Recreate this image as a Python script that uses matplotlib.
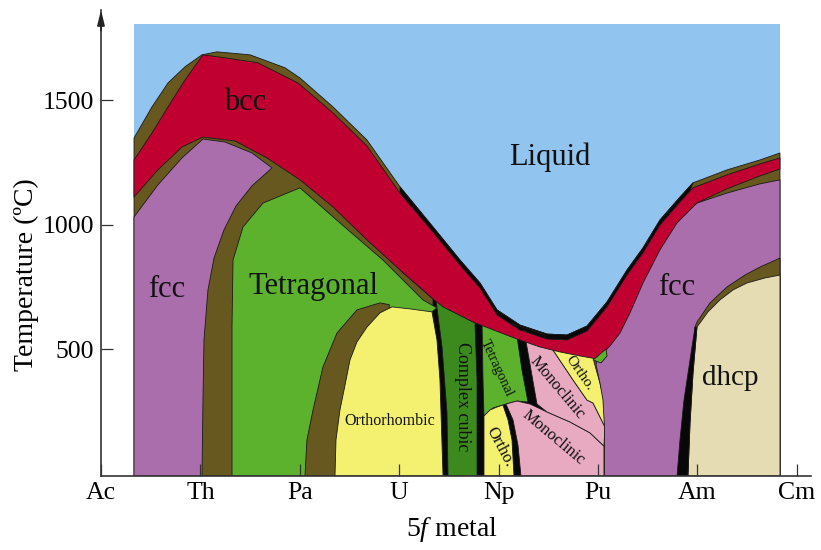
import matplotlib
matplotlib.use('Agg')
import matplotlib.pyplot as plt
from matplotlib.patches import Polygon, Rectangle

plt.rcParams['font.family'] = ['Liberation Serif', 'DejaVu Serif']
plt.rcParams['mathtext.fontset'] = 'custom'
plt.rcParams['mathtext.it'] = 'Liberation Serif:italic'
plt.rcParams['mathtext.rm'] = 'Liberation Serif'

# ---------------- data (x = element position, T = temperature in deg C) ----------------
elements = ['Ac', 'Th', 'Pa', 'U', 'Np', 'Pu', 'Am', 'Cm']
temp_ticks = [500, 1000, 1500]
X_MIN, X_MAX = 0.332, 6.831          # extent of the diagram
T_BOTTOM, T_TOP = -8, 1807

# liquidus
LIQ_X = [0.332, 0.513, 0.674, 0.845, 1.016, 1.167, 1.499, 1.851, 2.002, 2.334, 2.676, 3.008, 3.340,
         3.612, 3.813, 3.984, 4.215, 4.487, 4.688, 4.889, 5.091, 5.292, 5.453, 5.624, 5.825, 5.956,
         6.298, 6.630, 6.831]
LIQ_T = [1349, 1474, 1570, 1635, 1683, 1695, 1683, 1631, 1590, 1474, 1341, 1153, 992,
         859, 767, 659, 598, 562, 558, 594, 691, 819, 908, 1020, 1112, 1169,
         1221, 1261, 1289]
# bcc upper boundary
RT_X = [0.332, 0.513, 0.674, 0.845, 1.026, 1.247, 1.579, 1.982, 2.334, 2.676, 3.008, 3.340, 3.612,
        3.813, 3.984, 4.215, 4.487, 4.688, 4.889, 5.091, 5.292, 5.453, 5.624, 5.825, 5.956, 6.298,
        6.630, 6.831]
RT_T = [1261, 1369, 1474, 1582, 1683, 1671, 1651, 1570, 1450, 1317, 1128, 972, 839,
        747, 639, 578, 542, 538, 574, 671, 799, 888, 1000, 1092, 1149, 1201,
        1245, 1269]
# bcc lower boundary
RB_X = [0.332, 0.573, 0.815, 1.026, 1.348, 1.670, 2.002, 2.334, 2.676, 3.008, 3.340, 3.441, 3.742,
        4.185, 4.416, 4.618, 4.819, 4.990, 5.121, 5.221, 5.322, 5.453, 5.624, 5.795, 5.996, 6.298,
        6.630, 6.831]
RB_T = [1112, 1221, 1313, 1353, 1337, 1269, 1181, 1072, 940, 819, 703, 671, 610,
        542, 510, 490, 474, 462, 514, 566, 647, 767, 900, 1008, 1088, 1145,
        1197, 1225]

FCC_L_X = [0.332, 0.573, 0.815, 1.026, 1.247, 1.519, 1.720, 1.519, 1.358, 1.237, 1.137, 1.076, 1.036,
           1.026, 1.016, 0.332]
FCC_L_T = [1032, 1161, 1269, 1345, 1333, 1289, 1229, 1157, 1076, 980, 867, 739, 538, 297, -8, -8]

TET_PA_X = [1.318, 1.318, 1.328, 1.429, 1.630, 2.002, 2.404, 2.837, 3.239, 3.380, 3.330, 3.380, 3.410, 3.441]
TET_PA_T = [-8, 590, 859, 992, 1088, 1149, 1008, 859, 699, 667, 651, 538, 378, -8]

U_OL_X = [2.052, 2.072, 2.133, 2.233, 2.374, 2.575, 2.807, 2.900, 2.900]
U_OL_T = [-8, 137, 257, 430, 566, 659, 687, 680, -8]

U_OR_X = [2.354, 2.364, 2.404, 2.455, 2.505, 2.575, 2.676, 2.807, 2.928, 3.109, 3.330, 3.380, 3.410, 3.441]
U_OR_T = [-8, 137, 257, 357, 458, 530, 590, 647, 671, 663, 651, 538, 378, -8]

BLK_BASE_X = [3.340, 4.467, 4.467, 3.340]
BLK_BASE_T = [715, 558, -8, -8]

CC_X = [3.370, 3.431, 3.481, 3.491, 3.783, 3.783, 3.763, 3.773]
CC_T = [699, 510, 245, -8, -8, 378, 598, 635]

TET_NP_X = [3.833, 3.843, 3.853, 3.944, 4.044, 4.185, 4.296, 4.235, 4.185, 4.185]
TET_NP_T = [618, 378, 233, 265, 277, 293, 289, 418, 554, 578]

OR_NP_X = [3.853, 3.853, 3.913, 3.984, 4.044, 4.095, 4.135, 4.155]
OR_NP_T = [-8, 233, 257, 269, 277, 217, 137, -8]

MONO_LOW_X = [4.074, 4.185, 4.316, 4.487, 4.718, 4.920, 5.060, 5.060, 4.225, 4.195, 4.145]
MONO_LOW_T = [281, 293, 281, 249, 209, 165, 112, -8, -8, 116, 217]

MONO_UP_X = [4.245, 4.266, 4.326, 4.386, 4.487, 4.718, 4.920, 5.060, 5.070, 5.020, 4.950, 4.889,
             4.748, 4.547, 4.547]
MONO_UP_T = [578, 554, 418, 281, 249, 209, 165, 112, 189, 229, 285, 297, 378, 498, 518]

OR_PU_X = [4.547, 4.547, 4.748, 4.889, 4.950, 5.020, 5.070, 5.060, 5.020, 4.960, 4.960]
OR_PU_T = [518, 498, 378, 297, 285, 229, 189, 297, 365, 450, 490]

FCC_R_X = [5.065, 5.065, 5.050, 5.020, 4.980, 5.000, 5.121, 5.221, 5.322, 5.453, 5.624, 5.795, 5.996,
           6.298, 6.630, 6.831, 6.831]
FCC_R_T = [-8, 189, 297, 365, 438, 478, 538, 590, 671, 791, 924, 1028, 1088, 1128, 1165, 1181, -8]

DH_OL_X = [5.976, 5.996, 6.127, 6.298, 6.479, 6.630, 6.831, 6.831, 5.976]
DH_OL_T = [590, 610, 687, 751, 799, 831, 867, -8, -8]

DHCP_X = [5.996, 6.107, 6.227, 6.358, 6.499, 6.680, 6.831, 6.831, 5.905, 5.926, 5.956]
DHCP_T = [590, 651, 699, 739, 767, 787, 799, -8, -8, 205, 406]

BLK_AM_X = [5.976, 5.926, 5.865, 5.825, 5.795, 5.905, 5.926, 5.956, 5.996]
BLK_AM_T = [590, 458, 297, 137, -8, -8, 205, 406, 590]

BLOB_X = [4.950, 5.000, 5.080, 5.091, 5.030]
BLOB_T = [458, 474, 502, 474, 446]

# ---------------- colours ----------------
C_LIQ = '#91C4EF'
C_BCC = '#C00030'
C_OLIVE = '#66581E'
C_FCC = '#AA6EAC'
C_TET = '#5CB22C'
C_YEL = '#F4F070'
C_CC = '#3C8A1E'
C_PINK = '#E8AAC0'
C_DHCP = '#E6DCB4'
C_BLACK = '#080808'
EDGE = '#1a1a1a'

fig = plt.figure(figsize=(8.21, 5.5), dpi=100)
ax = fig.add_axes([101 / 821, 74 / 550, 710 / 821, 466 / 550])
ax.set_xlim(0, 7.143)
ax.set_ylim(-8, 1863)

zc = [1.0]


def poly(xs, ts, color, ec=EDGE, lw=0.6):
    zc[0] += 0.01
    ax.add_patch(Polygon(list(zip(xs, ts)), closed=True, facecolor=color, edgecolor=ec,
                         linewidth=lw, zorder=zc[0], joinstyle='round'))


# liquid background
ax.add_patch(Rectangle((X_MIN, T_BOTTOM), X_MAX - X_MIN, T_TOP - T_BOTTOM,
                       facecolor=C_LIQ, edgecolor='none', zorder=1.0))
# solid region under the liquidus (olive two-phase bands)
poly(LIQ_X + [X_MAX, X_MIN], LIQ_T + [T_BOTTOM, T_BOTTOM], C_OLIVE)
# black narrow two-phase strip under the liquidus (U .. Am)
top_pts = [(x, t) for x, t in zip(LIQ_X, LIQ_T) if 3.0 <= x <= 5.96]
bot_pts = [(x, t) for x, t in zip(RB_X, RB_T) if 3.0 <= x <= 5.96][::-1]
poly([p[0] for p in top_pts + bot_pts], [p[1] for p in top_pts + bot_pts], C_BLACK)
poly(BLK_BASE_X, BLK_BASE_T, C_BLACK)

poly(FCC_L_X, FCC_L_T, C_FCC)
poly(TET_PA_X, TET_PA_T, C_TET)
poly(U_OL_X, U_OL_T, C_OLIVE)
poly(U_OR_X, U_OR_T, C_YEL)
poly(CC_X, CC_T, C_CC)
poly(TET_NP_X, TET_NP_T, C_TET)
poly(OR_NP_X, OR_NP_T, C_YEL)
poly(MONO_LOW_X, MONO_LOW_T, C_PINK)
poly(MONO_UP_X, MONO_UP_T, C_PINK)
poly(OR_PU_X, OR_PU_T, C_YEL)
poly(FCC_R_X, FCC_R_T, C_FCC)
poly(DH_OL_X, DH_OL_T, C_OLIVE)
poly(DHCP_X, DHCP_T, C_DHCP)
poly(BLK_AM_X, BLK_AM_T, C_BLACK)
# bcc band
poly(RT_X + RB_X[::-1], RT_T + RB_T[::-1], C_BCC)
poly(BLOB_X, BLOB_T, C_TET)

# ---------------- labels ----------------
big = 22
def lab(x, t, s, size, rot=0):
    ax.text(x, t, s, fontsize=size, rotation=rot, ha='center', va='center',
            rotation_mode='anchor', zorder=5, color='#111111')

lab(1.449, 1490, 'bcc', big)
lab(4.517, 1273, 'Liquid', big)
lab(0.664, 739, 'fcc', big)
lab(2.133, 751, 'Tetragonal', big)
lab(5.795, 747, 'fcc', big)
lab(6.328, 386, 'dhcp', 21)
lab(2.907, 213, 'Orthorhombic', 11.5)
lab(3.632, 309, 'Complex cubic', 13, -90)
lab(3.984, 426, 'Tetragonal', 10.5, -65)
lab(4.588, 345, 'Monoclinic', 12, -50)
lab(4.547, 145, 'Monoclinic', 12, -40)
lab(4.819, 406, 'Ortho.', 11, -55)
lab(4.014, 108, 'Ortho.', 12, -62)

# ---------------- axes ----------------
for s in ['top', 'right']:
    ax.spines[s].set_visible(False)
for s in ['left', 'bottom']:
    ax.spines[s].set_color('#333333')
    ax.spines[s].set_linewidth(1.2)
    ax.spines[s].set_zorder(4)

ax.set_xticks(range(len(elements)))
ax.set_xticklabels(elements)
ax.set_yticks(temp_ticks)
ax.set_yticklabels([str(v) for v in temp_ticks])
ax.tick_params(direction='in', length=8.5, width=0.9, color='#333333', labelsize=18.5)
ax.tick_params(axis='x', pad=4)
ax.tick_params(axis='y', pad=5)

ax.annotate('', xy=(0, 1863), xytext=(0, 1780), xycoords='data',
            arrowprops=dict(arrowstyle='-|>,head_length=0.9,head_width=0.22', color='#222222',
                            lw=1.2, shrinkA=0, shrinkB=0), annotation_clip=False, zorder=6)

fig.text(26 / 821, 1 - 275 / 550, 'Temperature (ºC)', rotation=90, fontsize=20,
         ha='center', va='center')
fig.text(452 / 821, 1 - 536 / 550, '5$\\it{f}$ metal', fontsize=20, ha='center', va='baseline')

fig.savefig('out.png', dpi=100, facecolor='white')
